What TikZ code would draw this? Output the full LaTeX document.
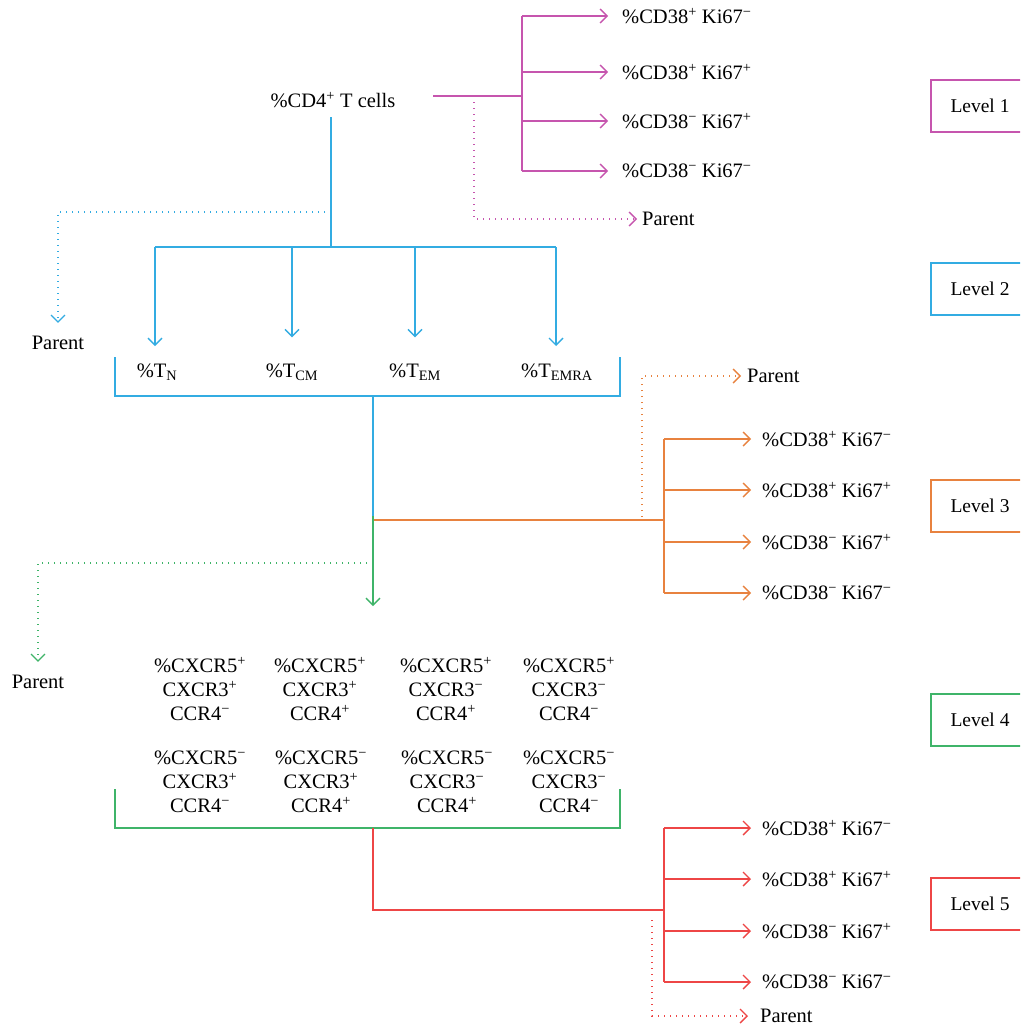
\documentclass[tikz,border=0pt]{standalone}
\usepackage{fontspec}
\setmainfont{Liberation Serif}
\usetikzlibrary{arrows.meta}
\definecolor{cmag}{HTML}{C655AE}
\definecolor{cblue}{HTML}{33ACE2}
\definecolor{corange}{HTML}{E8823F}
\definecolor{cgreen}{HTML}{3FB469}
\definecolor{cred}{HTML}{EE4646}
\newcommand{\psup}{\textsuperscript{+}}
\newcommand{\msup}{\textsuperscript{−}}
\tikzset{
  ln/.style={line width=1.6pt},
  arr/.style={line width=1.6pt,-{Straight Barb[length=7pt,width=14pt,line width=1.4pt]}},
  dotarr/.style={line width=1.5pt,dash pattern=on 1.4pt off 4.6pt,-{Straight Barb[length=7pt,width=14pt,line width=1.4pt]}},
  txt/.style={inner sep=0pt,font=\fontsize{20.5}{24}\selectfont},
  lab/.style={txt,anchor=west},
  cell/.style={inner sep=0pt,align=center,font=\fontsize{20.5}{24}\selectfont},
  lvlbox/.style={inner sep=0pt,font=\fontsize{19.5}{24}\selectfont,line width=1.6pt,minimum width=98pt,minimum height=52pt}
}
\begin{document}
\begin{tikzpicture}[x=1pt,y=-1pt]
\clip (0,0) rectangle (1020,1028);
\fill[white] (0,0) rectangle (1020,1028);

% ---------- Level 1 ----------
\node[txt] (cd4) at (333,100) {\%CD4\psup{} T cells};
\coordinate (m0) at (433,96);
\coordinate (mj) at (522,96);
\coordinate (mt) at (522,16);
\coordinate (mb) at (522,171);
\draw[ln,cmag] (m0) -- (mj) (mt) -- (mb);
\node[lab] (m1) at (622,16) {\%CD38\psup{} Ki67\msup};
\node[lab] (m2) at (622,72) {\%CD38\psup{} Ki67\psup};
\node[lab] (m3) at (622,121) {\%CD38\msup{} Ki67\psup};
\node[lab] (m4) at (622,171) {\%CD38\msup{} Ki67\msup};
\foreach \m in {m1,m2,m3,m4}
  \draw[arr,cmag,shorten >=14pt] (\m -| mj) -- (\m.west);
\coordinate (md) at (474,96);
\node[lab] (mp) at (642,219) {Parent};
\draw[dotarr,cmag,shorten >=5pt] (md) |- (mp.west);

% ---------- Level 2 ----------
\coordinate (bj) at (331,247);
\coordinate (bd) at (331,212);
\draw[ln,cblue,shorten <=9pt] (cd4.south -| bj) -- (bj);
\node[txt] (p2) at (58,343) {Parent};
\draw[dotarr,cblue,shorten >=13pt] (bd) -| (p2.north);
\coordinate (bl) at (155,247);
\coordinate (br) at (556,247);
\draw[ln,cblue] (bl) -- (br);
\node[txt] (tn) at (157,372) {\%T\textsubscript{N}};
\node[txt] (tcm) at (292,372) {\%T\textsubscript{CM}};
\node[txt] (tem) at (415,372) {\%T\textsubscript{EM}};
\node[txt] (temra) at (557,372) {\%T\textsubscript{EMRA}};
\draw[arr,cblue,shorten >=26pt] (bl) -- (bl |- tn);
\draw[arr,cblue,shorten >=26pt] (tcm |- bj) -- (tcm);
\draw[arr,cblue,shorten >=26pt] (tem |- bj) -- (tem);
\draw[arr,cblue,shorten >=26pt] (br) -- (br |- temra);
\coordinate (bkl) at (115,357);
\coordinate (bkb) at (620,396);
\coordinate (bkr) at (620,357);
\draw[ln,cblue] (bkl) |- (bkb) -- (bkr);

% ---------- Level 3 ----------
\coordinate (bs) at (373,396);
\coordinate (gj) at (373,516);
\draw[ln,cblue] (bs) -- (gj);
\coordinate (o0) at (373,520);
\coordinate (oj) at (664,520);
\coordinate (ot) at (664,439);
\coordinate (ob) at (664,593);
\draw[ln,corange] (o0) -- (oj) (ot) -- (ob);
\node[lab] (o1) at (762,439) {\%CD38\psup{} Ki67\msup};
\node[lab] (o2) at (762,490) {\%CD38\psup{} Ki67\psup};
\node[lab] (o3) at (762,542) {\%CD38\msup{} Ki67\psup};
\node[lab] (o4) at (762,593) {\%CD38\msup{} Ki67\msup};
\foreach \o in {o1,o2,o3,o4}
  \draw[arr,corange,shorten >=11pt] (\o -| oj) -- (\o.west);
\coordinate (od) at (642,517);
\node[lab] (op) at (747,376) {Parent};
\draw[dotarr,corange,shorten >=6pt] (od) |- (op.west);

% ---------- Level 4 ----------
\coordinate (ga) at (373,606);
\draw[arr,cgreen] (gj) -- (ga);
\coordinate (gd) at (373,563);
\node[txt] (p4) at (38,682) {Parent};
\draw[dotarr,cgreen,shorten >=13pt] (gd) -| (p4.north);
\node[cell] (g11) at (200,689) {\%CXCR5\psup\\CXCR3\psup\\CCR4\msup};
\node[cell] (g12) at (320,689) {\%CXCR5\psup\\CXCR3\psup\\CCR4\psup};
\node[cell] (g13) at (446,689) {\%CXCR5\psup\\CXCR3\msup\\CCR4\psup};
\node[cell] (g14) at (569,689) {\%CXCR5\psup\\CXCR3\msup\\CCR4\msup};
\node[cell] (g21) at (200,782) {\%CXCR5\msup\\CXCR3\psup\\CCR4\msup};
\node[cell] (g22) at (321,782) {\%CXCR5\msup\\CXCR3\psup\\CCR4\psup};
\node[cell] (g23) at (447,782) {\%CXCR5\msup\\CXCR3\msup\\CCR4\psup};
\node[cell] (g24) at (569,782) {\%CXCR5\msup\\CXCR3\msup\\CCR4\msup};
\coordinate (gbl) at (115,789);
\coordinate (gbb) at (620,828);
\coordinate (gbr) at (620,789);
\draw[ln,cgreen] (gbl) |- (gbb) -- (gbr);

% ---------- Level 5 ----------
\coordinate (rs) at (373,828);
\coordinate (rj) at (664,910);
\coordinate (rt) at (664,828);
\coordinate (rb) at (664,982);
\draw[ln,cred] (rs) |- (rj) (rt) -- (rb);
\node[lab] (r1) at (762,828) {\%CD38\psup{} Ki67\msup};
\node[lab] (r2) at (762,879) {\%CD38\psup{} Ki67\psup};
\node[lab] (r3) at (762,931) {\%CD38\msup{} Ki67\psup};
\node[lab] (r4) at (762,982) {\%CD38\msup{} Ki67\msup};
\foreach \r in {r1,r2,r3,r4}
  \draw[arr,cred,shorten >=11pt] (\r -| rj) -- (\r.west);
\coordinate (rd) at (652,920);
\node[lab] (rp) at (760,1016) {Parent};
\draw[dotarr,cred,shorten >=12pt] (rd) |- (rp.west);

% ---------- Level boxes ----------
\node[lvlbox,draw=cmag] (L1) at (980,106) {Level 1};
\node[lvlbox,draw=cblue] (L2) at (980,289) {Level 2};
\node[lvlbox,draw=corange] (L3) at (980,506) {Level 3};
\node[lvlbox,draw=cgreen] (L4) at (980,720) {Level 4};
\node[lvlbox,draw=cred] (L5) at (980,904) {Level 5};
\end{tikzpicture}
\end{document}
